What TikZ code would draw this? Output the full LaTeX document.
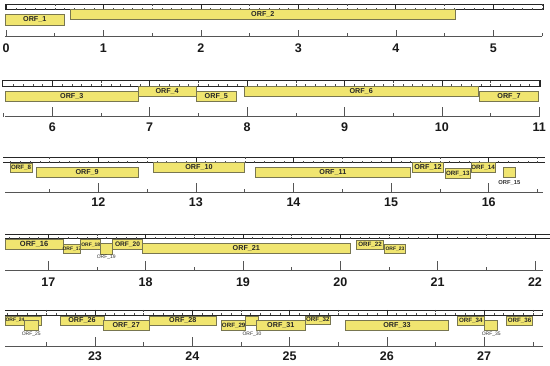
\documentclass[tikz,border=0pt]{standalone}
\usepackage{fontspec}
\setmainfont{Liberation Sans}
\definecolor{orffill}{RGB}{240,229,112}
\definecolor{orfline}{RGB}{120,118,80}
\definecolor{axgray}{RGB}{85,85,85}
\tikzset{
  orfrect/.style={draw=orfline, fill=orffill, line width=0.5pt},
  orftext/.style={inner sep=0pt, text=black!85, font=\bfseries\fontsize{7.2}{8}\selectfont},
  szL/.style={font=\bfseries\fontsize{7.2}{8}\selectfont},
  szM/.style={font=\bfseries\fontsize{6.2}{7}\selectfont},
  szS/.style={font=\bfseries\fontsize{5}{6}\selectfont},
  outlab/.style={inner sep=0pt, text=black!80, font=\fontsize{5}{6}\selectfont},
  numlab/.style={inner sep=0pt, text=black!90, font=\bfseries\fontsize{12.5}{14}\selectfont},
  axline/.style={draw=axgray, line width=0.6pt},
  barline/.style={draw=black!85, line width=0.7pt},
  minortick/.style={draw=black!70, line width=0.4pt},
  majortick/.style={draw=black!85, line width=0.8pt},
}
% ORF box: name, x1, y1, x2, y2, size style, text
\newcommand\orfbox[7]{%
  \path[orfrect] (#2,#3) rectangle (#4,#5);
  \node[orftext,#6] (#1) at ({(#2+#4)/2},{(#3+#5)/2}) {#7};
}
% bar ticks: a, s, tstart, tend, ytop, ybot
\newcommand\barticks[6]{%
  \foreach \t in {#3,...,#4}{%
    \pgfmathsetmacro\xx{#1+#2*(\t/10)}%
    \pgfmathtruncatemacro\mm{mod(\t,10)}%
    \ifnum\mm=0
      \draw[majortick] (\xx,#5) -- (\xx,#6);
    \else\ifnum\mm=5
      \draw[minortick] (\xx,#5) -- (\xx,#5+2);
      \draw[minortick] (\xx,#6) -- (\xx,#6-1.8);
    \else
      \draw[minortick] (\xx,#6) -- (\xx,#6-1.8);
    \fi\fi
  }%
}
% axis: a, s, hstart, hend, yline, majorlen, halflen, xleft, xright
\newcommand\axisrow[9]{%
  \draw[axline] (#8,#5) -- (#9,#5);
  \foreach \h in {#3,...,#4}{%
    \pgfmathsetmacro\xx{#1+#2*(\h/2)}%
    \pgfmathtruncatemacro\rr{mod(\h,2)}%
    \ifnum\rr=0
      \draw[axline] (\xx,#5) -- (\xx,#5-#6);
    \else
      \draw[axline] (\xx,#5) -- (\xx,#5-#7);
    \fi
  }%
}
\newcommand\axislabels[5]{% a, s, nstart, nend, y
  \foreach \n in {#3,...,#4}{%
    \pgfmathsetmacro\xx{#1+#2*\n}%
    \node[numlab] (num\n) at (\xx,#5) {\n};
  }%
}
\begin{document}
\begin{tikzpicture}[x=1pt,y=-1pt]
\useasboundingbox[fill=white] (0,0) rectangle (550,366);

% ---------------- Row 1 (0 - 5.5)
\draw[barline, fill=white] (5,4.3) rectangle (543,9.7);
\barticks{6}{97.46}{0}{55}{4.3}{9.7}
\axisrow{6}{97.46}{0}{11}{36.5}{6}{3.5}{5}{541.7}
\axislabels{6}{97.46}{0}{5}{48}
\orfbox{o1}{5.3}{14.3}{64.3}{25.3}{szL}{ORF\_1}
\orfbox{o2}{70}{9.7}{455.7}{19.3}{szL}{ORF\_2}

% ---------------- Row 2 (5.5 - 11)
\draw[barline, fill=white] (2.7,80.7) rectangle (540.7,86.3);
\barticks{-532.1}{97.4}{56}{110}{80.7}{86.3}
\axisrow{-532.1}{97.4}{11}{22}{116.7}{9.7}{3.5}{5}{539.5}
\axislabels{-532.1}{97.4}{6}{11}{127.2}
\orfbox{o3}{5.3}{91.7}{138.3}{101.7}{szL}{ORF\_3}
\orfbox{o4}{138.3}{86.7}{196}{96.3}{szL}{ORF\_4}
\orfbox{o5}{196}{91}{236.7}{101.7}{szL}{ORF\_5}
\orfbox{o6}{244}{86.7}{478.3}{96.3}{szL}{ORF\_6}
\orfbox{o7}{479.7}{91}{538.3}{101.7}{szL}{ORF\_7}

% ---------------- Row 3 (11 - 16.5)
\draw[barline] (3,157.3) -- (545,157.3);
\draw[barline] (3,162.7) -- (545,162.7);
\barticks{-1072.9}{97.6}{111}{165}{157.3}{162.7}
\axisrow{-1072.9}{97.6}{23}{33}{192.7}{9.7}{3.5}{5}{543}
\axislabels{-1072.9}{97.6}{12}{16}{201.8}
\orfbox{o8}{10}{163.3}{32.3}{172.3}{szM}{ORF\_8}
\orfbox{o9}{36}{167.3}{138.3}{177.3}{szL}{ORF\_9}
\orfbox{o10}{153.3}{162.7}{244.7}{172.7}{szL}{ORF\_10}
\orfbox{o11}{255}{167.3}{410.7}{177.3}{szL}{ORF\_11}
\orfbox{o12}{412.7}{162.7}{443.3}{172.7}{szL}{ORF\_12}
\orfbox{o13}{445}{168.3}{470.7}{178.3}{szM}{ORF\_13}
\orfbox{o14}{471}{162.7}{495}{172}{szM}{ORF\_14}
\orfbox{o15}{503}{167.3}{515}{177.3}{szM}{}
\node[outlab, font=\bfseries\fontsize{5.8}{7}\selectfont] (l15) at (509.3,182.7) {ORF\_15};

% ---------------- Row 4 (16.5 - 22)
\draw[barline] (5,234) -- (550,234);
\draw[barline] (5,238.7) -- (550,238.7);
\barticks{-1606.5}{97.34}{166}{220}{234}{238.7}
\axisrow{-1606.5}{97.34}{34}{44}{270.3}{9.7}{3.5}{5}{543}
\axislabels{-1606.5}{97.34}{17}{22}{282.5}
\orfbox{o16}{5}{239.7}{63.3}{249.7}{font=\bfseries\fontsize{7.5}{8}\selectfont}{ORF\_16}
\orfbox{o17}{63.3}{244}{80.7}{253.7}{szS}{ORF\_17}
\orfbox{o18}{80.7}{239.7}{100.7}{249.7}{szS}{ORF\_18}
\orfbox{o19}{100.7}{243}{112.3}{254}{szS}{}
\node[outlab] (l19) at (106.2,257.5) {ORF\_19};
\orfbox{o20}{112.3}{239.7}{142.7}{249.7}{font=\bfseries\fontsize{6.6}{7}\selectfont}{ORF\_20}
\orfbox{o21}{142.7}{243}{350}{253.7}{szL}{ORF\_21}
\orfbox{o22}{356.7}{240.3}{383.3}{249}{szM}{ORF\_22}
\orfbox{o23}{384.3}{244.7}{405.7}{253.7}{szS}{ORF\_23}

% ---------------- Row 5 (22 - 27.6)
\draw[barline] (5,310) -- (543,310);
\draw[barline] (5,315) -- (543,315);
\barticks{-2142.9}{97.3}{221}{276}{310}{315}
\axisrow{-2142.9}{97.3}{45}{55}{346}{9.3}{3.5}{5}{543}
\axislabels{-2142.9}{97.3}{23}{27}{356.5}
\path[orfrect] (5,316) rectangle (41.7,325);
\node[orftext,szS] (o24) at (15,320.5) {ORF\_24};
\orfbox{o25}{24}{320}{38.3}{330}{szS}{}
\node[outlab] (l25) at (31.2,334.3) {ORF\_25};
\orfbox{o26}{60}{316}{104}{325}{szL}{ORF\_26}
\orfbox{o27}{103.3}{320.7}{149}{330.7}{szL}{ORF\_27}
\orfbox{o28}{149}{316}{216.7}{325}{szL}{ORF\_28}
\orfbox{o29}{221.7}{320.7}{245.7}{330}{szM}{ORF\_29}
\orfbox{o30}{245.7}{316}{258.3}{325}{szS}{}
\node[outlab] (l30) at (252,334.5) {ORF\_30};
\orfbox{o31}{256}{320.7}{305.7}{330.7}{szL}{ORF\_31}
\orfbox{o32}{305.7}{316}{330}{324.3}{szM}{ORF\_32}
\orfbox{o33}{345.7}{320}{448.3}{330.7}{szL}{ORF\_33}
\orfbox{o34}{457.3}{316}{484.3}{325}{szM}{ORF\_34}
\orfbox{o35}{484.3}{320}{497.7}{330}{szS}{}
\node[outlab] (l35) at (491.2,334) {ORF\_35};
\orfbox{o36}{506.7}{316}{532.3}{325}{szM}{ORF\_36}
\end{tikzpicture}
\end{document}
